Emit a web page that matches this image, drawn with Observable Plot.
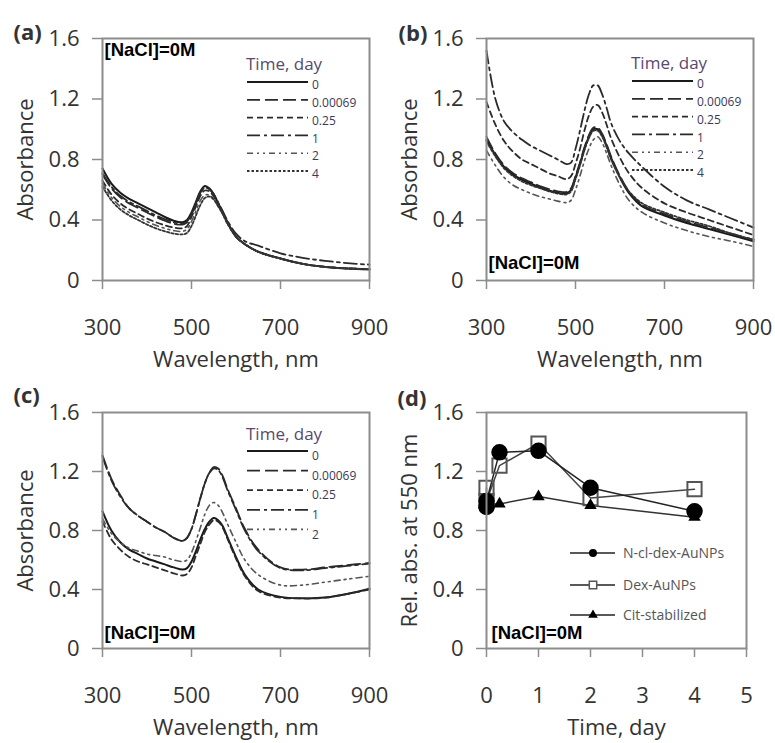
<!DOCTYPE html>
<html>
<head>
<meta charset="utf-8">
<script src="https://cdn.jsdelivr.net/npm/d3@7"></script>
<script src="https://cdn.jsdelivr.net/npm/@observablehq/plot@0.6"></script>
<style>
  body { margin: 0; background: #fff; }
  #root { position: relative; width: 775px; height: 743px; background: #fff; overflow: hidden; }
  .panel { position: absolute; }
</style>
</head>
<body>
<div id="root"></div>
<script>
// ---------- DATA ----------
const wavelength = [300,320,340,360,380,400,420,440,460,480,490,500,510,520,530,540,550,560,570,580,600,620,650,700,750,800,850,900];
const timeLabels = ["0","0.00069","0.25","1","2","4"];

// Panel (a)
const a_t0      = [.74,.64,.58,.54,.51,.48,.45,.42,.395,.385,.40,.45,.52,.59,.625,.61,.57,.51,.45,.39,.29,.24,.19,.145,.11,.09,.08,.073];
const a_t00069  = [.70,.61,.55,.51,.48,.45,.42,.395,.375,.37,.385,.44,.51,.58,.615,.605,.565,.51,.45,.39,.29,.24,.19,.145,.11,.09,.08,.075];
const a_t025    = [.66,.57,.51,.47,.44,.41,.385,.365,.35,.345,.36,.42,.49,.56,.595,.59,.555,.50,.445,.385,.29,.24,.19,.145,.11,.09,.08,.075];
const a_t1      = [.71,.62,.56,.52,.49,.46,.43,.405,.385,.375,.39,.44,.51,.58,.615,.605,.57,.515,.46,.40,.31,.26,.23,.18,.15,.13,.115,.105];
const a_t2      = [.64,.55,.49,.45,.42,.39,.365,.345,.33,.325,.34,.39,.46,.53,.565,.565,.54,.49,.44,.38,.29,.24,.19,.145,.11,.09,.08,.075];
const a_t4      = [.62,.53,.47,.43,.40,.37,.345,.325,.31,.305,.315,.36,.43,.50,.545,.555,.535,.49,.44,.38,.29,.24,.19,.145,.11,.09,.08,.075];

// Panel (b)
const b_t0      = [.93,.83,.75,.70,.665,.64,.615,.595,.58,.575,.60,.68,.77,.87,.95,1.0,1.0,.96,.89,.81,.68,.58,.49,.43,.38,.34,.30,.26];
const b_t00069  = [.95,.84,.76,.71,.675,.65,.625,.605,.59,.585,.61,.69,.78,.88,.96,1.01,1.01,.97,.90,.82,.69,.59,.50,.44,.39,.35,.31,.27];
const b_t025    = [1.18,1.03,.92,.85,.80,.77,.74,.71,.69,.67,.69,.77,.87,.99,1.09,1.15,1.16,1.11,1.03,.94,.81,.71,.61,.51,.45,.40,.35,.30];
const b_t1      = [1.52,1.20,1.05,.98,.93,.89,.86,.83,.80,.77,.78,.87,.99,1.12,1.23,1.29,1.29,1.23,1.14,1.04,.92,.84,.75,.62,.53,.47,.41,.35];
const b_t2      = [.86,.76,.68,.63,.60,.575,.555,.54,.525,.515,.53,.60,.69,.79,.87,.93,.95,.91,.84,.76,.63,.53,.45,.38,.33,.29,.26,.225];
const b_t4      = [.92,.82,.74,.69,.655,.63,.61,.59,.575,.57,.59,.67,.76,.86,.94,.99,.99,.95,.88,.80,.68,.59,.51,.45,.40,.36,.31,.27];

// Panel (c)
const c_t0      = [.93,.80,.72,.67,.64,.61,.59,.57,.55,.535,.545,.59,.66,.74,.81,.86,.885,.87,.83,.76,.62,.50,.40,.35,.34,.345,.37,.405];
const c_t00069  = [1.31,1.15,1.04,.95,.90,.86,.82,.79,.75,.73,.75,.81,.91,1.02,1.12,1.19,1.23,1.22,1.17,1.09,.95,.81,.67,.55,.535,.55,.565,.58];
const c_t025    = [.86,.74,.67,.62,.59,.57,.55,.53,.51,.495,.505,.55,.63,.71,.79,.84,.87,.86,.82,.75,.61,.49,.39,.345,.34,.345,.37,.40];
const c_t1      = [1.30,1.14,1.03,.95,.90,.86,.82,.79,.75,.73,.75,.81,.91,1.02,1.12,1.19,1.22,1.21,1.16,1.08,.94,.80,.66,.545,.53,.545,.56,.575];
const c_t2      = [.88,.78,.72,.68,.66,.64,.63,.62,.60,.59,.60,.65,.73,.82,.91,.97,.99,.97,.92,.85,.72,.60,.50,.43,.43,.45,.47,.49];

// Panel (d)
const d_time     = [0, 0.00069, 0.25, 1, 2, 4];
const d_nclDex   = [0.96, 1.00, 1.33, 1.34, 1.09, 0.93];
const d_dex      = [1.09, 1.00, 1.24, 1.39, 1.02, 1.08];
const d_cit      = [1.00, 0.98, 0.98, 1.03, 0.97, 0.89];
const d_names    = ["N-cl-dex-AuNPs", "Dex-AuNPs", "Cit-stabilized"];

const yTicks = [0, 0.4, 0.8, 1.2, 1.6];
const xTicksWl = [300, 500, 700, 900];
const xTicksDay = [0, 1, 2, 3, 4, 5];

// ---------- STYLES ----------
const lineStyle = {
  "0":       {dash: null,          color: "#1a1a1a", w: 2.0},
  "0.00069": {dash: "13,5",        color: "#2a2a2a", w: 1.8},
  "0.25":    {dash: "6,4",         color: "#2a2a2a", w: 1.8},
  "1":       {dash: "13,4,3,4",    color: "#2a2a2a", w: 1.8},
  "2":       {dash: "6,4,2,4,2,4", color: "#555",    w: 1.6},
  "4":       {dash: "2.5,2",       color: "#333",    w: 1.8}
};
const FONT = "'Open Sans', 'Noto Sans', sans-serif";
const AX = "#8c8c8c";
const TXT = "#333";

const root = document.getElementById("root");
const fmt = d => d === 0 ? "0" : d.toFixed(1);

function commonMarks(opts) {
  return [
    Plot.frame({stroke: AX, strokeWidth: 2}),
    Plot.axisX({ticks: opts.xTicks, tickFormat: d => String(d), tickSize: 9, tickPadding: 30, stroke: AX, strokeWidth: 1.5, fill: TXT, fontSize: 22, label: null}),
    Plot.axisY({ticks: yTicks, tickFormat: fmt, tickSize: 10, tickPadding: 13, stroke: AX, strokeWidth: 1.5, fill: TXT, fontSize: 22, label: null}),
    Plot.text([opts.xLabel], {text: d => d, frameAnchor: "bottom", dy: 79, lineAnchor: "middle", fontSize: 22, fill: TXT}),
    Plot.text([opts.yLabel], {text: d => d, frameAnchor: "left", dx: -77, rotate: -90, lineAnchor: "middle", textAnchor: "middle", fontSize: 22, fill: TXT}),
    Plot.text(["[NaCl]=0M"], {text: d => d, frameAnchor: opts.naclAnchor, dx: opts.naclDx, dy: opts.naclDy, textAnchor: "start", lineAnchor: "middle", fontSize: 18.5, fontWeight: "bold", fontFamily: "'Liberation Sans', Arial, sans-serif", fill: "#000"}),
    Plot.text([opts.panel], {text: d => d, frameAnchor: "top-left", dx: opts.panelDx, dy: opts.panelDy, textAnchor: "start", lineAnchor: "middle", fontSize: 22, fontWeight: "bold", fill: TXT})
  ];
}

function place(svg, left, top) {
  const div = document.createElement("div");
  div.className = "panel";
  div.style.left = left + "px";
  div.style.top = top + "px";
  div.appendChild(svg);
  root.appendChild(div);
}

function spectrumLegend(svg, labels, cfg) {
  const g = d3.select(svg).append("g").attr("text-anchor", "start");
  g.append("text").attr("x", cfg.x1 - 1).attr("y", cfg.titleY).attr("dy", "0.35em").attr("text-anchor", "start")
    .attr("font-family", FONT).attr("font-size", 17).attr("fill", "#5a4870").text("Time, day");
  labels.forEach((t, i) => {
    const y = cfg.y0 + i * cfg.step;
    const s = lineStyle[t];
    g.append("line").attr("x1", cfg.x1).attr("x2", cfg.x2).attr("y1", y).attr("y2", y)
      .attr("stroke", s.color).attr("stroke-width", s.w).attr("stroke-dasharray", s.dash);
    g.append("text").attr("x", cfg.x2 + 4).attr("y", y + cfg.labelDy).attr("dy", "0.35em").attr("text-anchor", "start")
      .attr("font-family", FONT).attr("font-size", 12).attr("fill", "#3a3a55").text(t);
  });
}

function spectrumPanel(seriesList, labels, opts) {
  const lines = seriesList.map((arr, k) => {
    const s = lineStyle[labels[k]];
    const rows = wavelength.map((w, i) => ({wl: w, v: arr[i]}));
    return Plot.line(rows, {x: "wl", y: "v", curve: "catmull-rom", stroke: s.color, strokeWidth: s.w, strokeDasharray: s.dash});
  });
  const svg = Plot.plot({
    width: 387, height: opts.height,
    marginLeft: 102, marginRight: 18, marginTop: opts.mt, marginBottom: opts.mb,
    style: {fontFamily: FONT, fontSize: "22px", color: TXT, background: "transparent", overflow: "visible"},
    x: {domain: [300, 900]},
    y: {domain: [0, 1.6]},
    marks: [
      ...lines,
      ...commonMarks({xTicks: xTicksWl, xLabel: "Wavelength, nm", yLabel: "Absorbance", ...opts})
    ]
  });
  spectrumLegend(svg, labels, opts.legend);
  return svg;
}

// (a)
place(spectrumPanel([a_t0, a_t00069, a_t025, a_t1, a_t2, a_t4], timeLabels, {
  height: 372, mt: 38, mb: 92, panel: "(a)", panelDx: -89, panelDy: -6,
  naclAnchor: "top-left", naclDx: 2, naclDy: 12,
  legend: {x1: 247, x2: 308, y0: 82, step: 17.8, titleY: 64, labelDy: 3}
}), 0, 0);

// (b)
place(spectrumPanel([b_t0, b_t00069, b_t025, b_t1, b_t2, b_t4], timeLabels, {
  height: 372, mt: 38, mb: 92, panel: "(b)", panelDx: -88, panelDy: -5,
  naclAnchor: "bottom-left", naclDx: 2, naclDy: -17,
  legend: {x1: 248, x2: 309, y0: 81, step: 17.8, titleY: 63, labelDy: 3}
}), 384, 0);

// (c)
place(spectrumPanel([c_t0, c_t00069, c_t025, c_t1, c_t2], timeLabels.slice(0, 5), {
  height: 371, mt: 40, mb: 95, panel: "(c)", panelDx: -89, panelDy: -17,
  naclAnchor: "bottom-left", naclDx: 2, naclDy: -15,
  legend: {x1: 247, x2: 308, y0: 79, step: 19.6, titleY: 62, labelDy: 5}
}), 0, 372);

// (d)
const rowsN = d_time.map((t, i) => ({t, v: d_nclDex[i]}));
const rowsD = d_time.map((t, i) => ({t, v: d_dex[i]}));
const rowsC = d_time.map((t, i) => ({t, v: d_cit[i]}));
const svgD = Plot.plot({
  width: 387, height: 371,
  marginLeft: 102, marginRight: 25, marginTop: 40, marginBottom: 95,
  style: {fontFamily: FONT, fontSize: "22px", color: TXT, background: "transparent", overflow: "visible"},
  x: {domain: [0, 5]},
  y: {domain: [0, 1.6]},
  marks: [
    Plot.line(rowsC, {x: "t", y: "v", stroke: "#333", strokeWidth: 1.5}),
    Plot.line(rowsD, {x: "t", y: "v", stroke: "#444", strokeWidth: 1.5}),
    Plot.line(rowsN, {x: "t", y: "v", stroke: "#222", strokeWidth: 1.5}),
    Plot.dot(rowsD, {x: "t", y: "v", symbol: "square", r: 8, fill: "none", stroke: "#555", strokeWidth: 2}),
    Plot.dot(rowsN, {x: "t", y: "v", symbol: "circle", r: 7.5, fill: "#000", stroke: "#000"}),
    Plot.dot(rowsC, {x: "t", y: "v", symbol: "triangle", r: 4.6, fill: "#000", stroke: "none"}),
    ...commonMarks({xTicks: xTicksDay, xLabel: "Time, day", yLabel: "Rel. abs. at 550 nm",
      panel: "(d)", panelDx: -89, panelDy: -14, naclAnchor: "bottom-left", naclDx: 5, naclDy: -15})
  ]
});
{
  const g = d3.select(svgD).append("g").attr("text-anchor", "start");
  const ys = [181, 213, 243];
  const syms = [d3.symbolCircle, d3.symbolSquare, d3.symbolTriangle];
  const sizes = [50, 55, 40];
  d_names.forEach((name, i) => {
    g.append("line").attr("x1", 186).attr("x2", 231).attr("y1", ys[i]).attr("y2", ys[i]).attr("stroke", "#222").attr("stroke-width", 1.5);
    g.append("path").attr("transform", `translate(209,${ys[i]})`).attr("d", d3.symbol(syms[i], sizes[i])())
      .attr("fill", i === 1 ? "#fff" : "#000").attr("stroke", i === 1 ? "#555" : "none").attr("stroke-width", 1.5);
    g.append("text").attr("x", 239).attr("y", ys[i]).attr("dy", "0.35em").attr("text-anchor", "start").attr("font-family", FONT)
      .attr("font-size", 14).attr("fill", "#555").text(name);
  });
}
place(svgD, 384, 372);
</script>
</body>
</html>
